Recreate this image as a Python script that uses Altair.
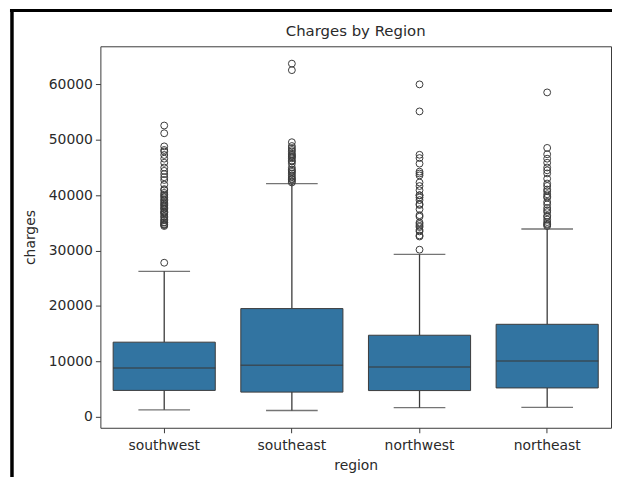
import altair as alt
import pandas as pd

# ---- data ----
regions = ["southwest", "southeast", "northwest", "northeast"]
whisker_low = [1242, 1122, 1621, 1695]
q1 = [4751, 4441, 4720, 5194]
median = [8799, 9294, 8966, 10058]
q3 = [13463, 19526, 14712, 16687]
whisker_high = [26250, 42112, 29330, 33900]

southwest_outliers = [27808, 34439, 34617, 34672, 34806, 35069, 35147, 35491, 35585,
                      36021, 36197, 36580, 36837, 36910, 37079, 37484, 37607, 37829,
                      38126, 38282, 38511, 38746, 39047, 39241, 39611, 39871, 40103,
                      40419, 40941, 41097, 41919, 42760, 43254, 43813, 44400, 45008,
                      45863, 46599, 47269, 47896, 48173, 48824, 51194, 52590]
southeast_outliers = [42303, 42560, 42856, 42969, 43254, 43578, 43896, 44202, 44423,
                      44641, 45008, 45702, 46113, 46255, 46661, 46889, 47055, 47291,
                      47496, 47896, 48173, 48517, 48885, 49577, 62592, 63770]
northwest_outliers = [30166, 32548, 32734, 33471, 33732, 34254, 34472, 34806, 35069,
                      36124, 36397, 37465, 38245, 38415, 39125, 39597, 39983, 40003,
                      40904, 41661, 42303, 43578, 43921, 44260, 45710, 46718, 47305,
                      55135, 60021]
northeast_outliers = [34439, 34672, 34838, 35160, 35595, 36085, 36307, 36950, 37270,
                      37701, 38344, 38792, 39556, 39774, 40182, 40720, 41034, 41676,
                      42111, 42983, 43943, 44501, 45008, 45863, 46599, 47403, 48549,
                      58571]

y_ticks = [0, 10000, 20000, 30000, 40000, 50000, 60000]

# ---- tables ----
box_df = pd.DataFrame({
    "region": regions, "low": whisker_low, "q1": q1,
    "median": median, "q3": q3, "high": whisker_high,
})
out_lists = [southwest_outliers, southeast_outliers, northwest_outliers, northeast_outliers]
out_df = pd.DataFrame({
    "region": [r for r, lst in zip(regions, out_lists) for _ in lst],
    "charges": [v for lst in out_lists for v in lst],
})

LINE = "#3b3b3b"
FILL = "#3274a1"
TEXT = "#2a2a2a"
FONT = "DejaVu Sans"

x_scale = alt.Scale(type="band", domain=regions, paddingInner=0, paddingOuter=0)
y_scale = alt.Scale(domain=[-2000, 66900], nice=False, zero=False)


def X():
    return alt.X("region:N", sort=regions, scale=x_scale,
                 axis=alt.Axis(title="region", labelAngle=0, labelPadding=6,
                               titlePadding=6, titleFontWeight="normal"))


def Y(field):
    return alt.Y(f"{field}:Q", scale=y_scale,
                 axis=alt.Axis(title="charges", values=y_ticks, format="d",
                               labelPadding=3, titlePadding=11,
                               titleFontWeight="normal"))


base = alt.Chart(box_df)

whisk_lo = base.mark_rule(color=LINE, strokeWidth=1.3).encode(
    x=X(), y=Y("low"), y2="q1:Q")
whisk_hi = base.mark_rule(color=LINE, strokeWidth=1.3).encode(
    x=X(), y=Y("q3"), y2="high:Q")
boxes = base.mark_bar(width=alt.RelativeBandSize(0.8), color=FILL,
                      stroke=LINE, strokeWidth=1).encode(
    x=X(), y=Y("q1"), y2="q3:Q")
med = base.mark_tick(size=103, thickness=1.6, color=LINE).encode(
    x=X(), y=Y("median"))
cap_lo = base.mark_tick(size=52, thickness=1.3, color=LINE).encode(
    x=X(), y=Y("low"))
cap_hi = base.mark_tick(size=52, thickness=1.3, color=LINE).encode(
    x=X(), y=Y("high"))
fliers = alt.Chart(out_df).mark_point(shape="circle", filled=False, size=48,
                                      strokeWidth=1, color=LINE, opacity=1).encode(
    x=X(), y=Y("charges"))

# decorative outer frame of the screenshot
frame_df = pd.DataFrame({"k": [0]})
frame_left = alt.Chart(frame_df).mark_rule(color="black", strokeWidth=3.5).encode(
    x=alt.value(-89), y=alt.value(-37), y2=alt.value(450))
frame_top = alt.Chart(frame_df).mark_rule(color="black", strokeWidth=3).encode(
    x=alt.value(-91), x2=alt.value(520), y=alt.value(-36))

chart = alt.layer(
    whisk_lo, whisk_hi, boxes, med, cap_lo, cap_hi, fliers, frame_left, frame_top
).properties(
    width=514, height=384,
    background="white",
    autosize=alt.AutoSizeParams(type="none"),
    padding={"left": 93, "top": 37, "right": 1, "bottom": 48},
    title=alt.TitleParams("Charges by Region", fontSize=15, font=FONT,
                          color=TEXT, fontWeight="normal", anchor="middle",
                          offset=-31),
).configure_view(
    stroke="#3a3a3a", strokeWidth=1
).configure_axis(
    domain=False, ticks=True, tickColor="#3a3a3a", tickSize=5, tickWidth=1,
    grid=False, labelFont=FONT, labelFontSize=14, labelColor=TEXT,
    titleFont=FONT, titleFontSize=14, titleColor=TEXT, titleFontWeight="normal",
)

chart.save("out.html", embed_options={"renderer": "svg", "actions": False})
